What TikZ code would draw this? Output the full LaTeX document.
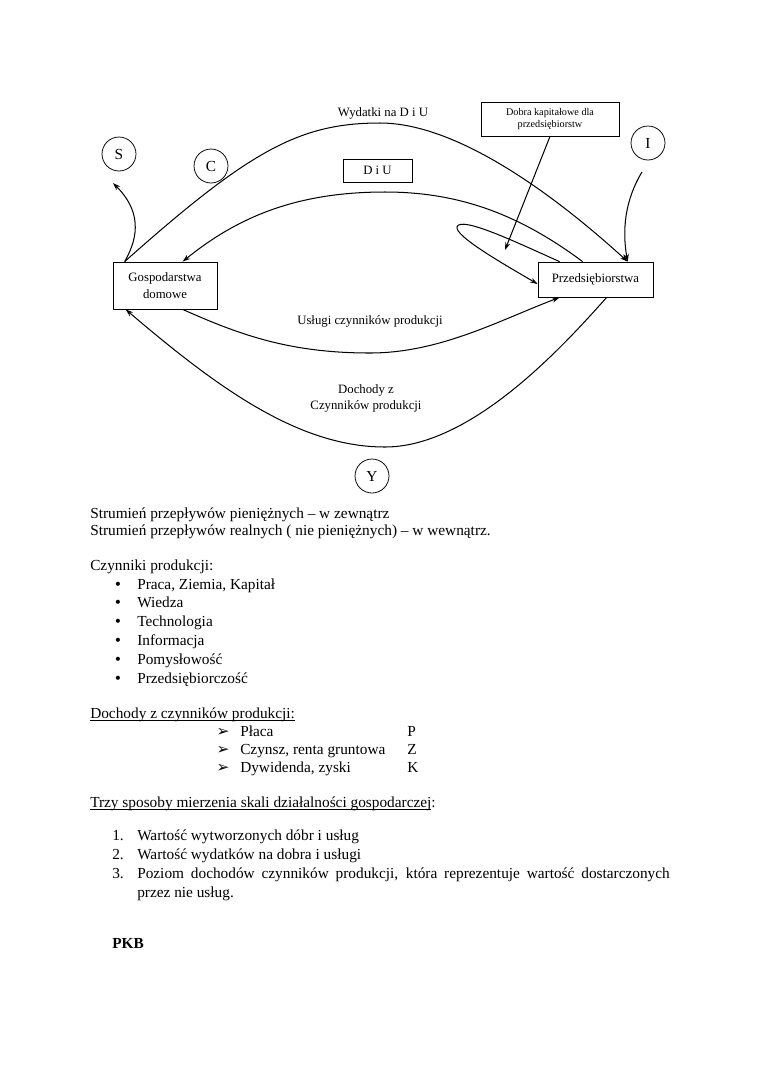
\documentclass[tikz,border=0pt]{standalone}
\usepackage{fontspec}
\setmainfont{Liberation Serif}
\newfontfamily\symfont{DejaVu Sans}
\usetikzlibrary{arrows.meta,calc}
\newlength\undlw
\newcommand{\undl}[1]{\settowidth{\undlw}{#1}\rlap{\rule[-1.8pt]{\undlw}{0.5pt}}#1}

\begin{document}
\begin{tikzpicture}[x=0.783pt, y=-0.783pt, >={Stealth[length=6pt,width=4pt]},
    box/.style={draw, line width=0.6pt, inner sep=1pt, align=center, font=\fontsize{10}{13}\selectfont},
    letter/.style={circle, draw, line width=0.6pt, minimum size=26.6pt, inner sep=0pt, font=\fontsize{12}{14}\selectfont},
    flow/.style={->, line width=0.8pt},
    lbl/.style={align=center, inner sep=0pt, font=\fontsize{10}{12.5}\selectfont},
    txt/.style={anchor=base west, inner sep=0pt, font=\fontsize{12}{14}\selectfont},
    bul/.style={anchor=base, inner sep=0pt, font=\symfont\fontsize{11}{14}\selectfont}]
        \useasboundingbox (0,0) rectangle (760,1075);

        % Sectors
        \node[box, minimum width=81.4pt, minimum height=36.8pt] (gosp) at (165,285.5) {Gospodarstwa\\domowe};
        \node[box, minimum width=90pt, minimum height=27.4pt] (przed) at (595.5,279.5) {Przedsiębiorstwa};
        \node[box, minimum width=54pt, minimum height=18pt] (diu) at (377.5,170.5) {D i U};
        \node[box, minimum width=108pt, minimum height=26.6pt, font=\fontsize{8}{10}\selectfont] (dobra) at (550,119) {Dobra kapitałowe dla\\przedsiębiorstw};

        % Letters
        \node[letter] (s) at (119,154) {S};
        \node[letter] (c) at (211,166) {C};
        \node[letter] (i) at (648,143) {I};
        \node[letter] (y) at (372,476) {Y};

        % Labels
        \node[lbl] (wyd) at (383,113) {Wydatki na D i U};
        \node[lbl] (usl) at (370,321) {Usługi czynników produkcji};
        \node[lbl] (doch) at (366,398) {Dochody z\\Czynników produkcji};

        % Free ends
        \coordinate (sarr) at (113,183);
        \coordinate (iarr) at (642,172);
        \coordinate (darr) at (505,250);

        % Flows above
        \draw[flow] ($(gosp.north west)+(12,0)$) .. controls (250,150) and (300,123) .. (380,123)
            .. controls (460,123) and (560,200) .. ($(przed.north west)+(90,0)$);
        \draw[flow] ($(przed.north west)+(45,0)$) .. controls (520,215) and (460,192) .. (385,192)
            .. controls (300,192) and (240,215) .. ($(gosp.north west)+(70,0)$);
        \draw[flow] ($(przed.north west)+(22,0)$) .. controls (520,244) and (460,215) .. (457,227)
            .. controls (455,236) and (500,262) .. ($(przed.west)+(0,4.5)$);
        \draw[flow] (dobra.south) -- (darr);
        \draw[flow] ($(gosp.north west)+(12,0)$) .. controls (140,235) and (140,210) .. (sarr);
        \draw[flow] (iarr) .. controls (625,200) and (622,230) .. ($(przed.north west)+(90,0)$);

        % Flows below
        \draw[flow] ($(gosp.south west)+(70,0)$) .. controls (240,335) and (290,353) .. (370,353)
            .. controls (440,353) and (500,320) .. ($(przed.south west)+(22,0)$);
        \draw[flow] ($(przed.south west)+(69,0)$) .. controls (560,350) and (470,447) .. (385,447)
            .. controls (300,447) and (220,390) .. ($(gosp.south west)+(13,0)$);

        % Text below the diagram
        \node[txt] (str1) at (90,518) {Strumień przepływów pieniężnych – w zewnątrz};
        \node[txt] (str2) at (90,535) {Strumień przepływów realnych ( nie pieniężnych) – w wewnątrz.};

        \node[txt] (czyn) at (90,570) {Czynniki produkcji:};
        \foreach \t [count=\k from 0] in {{Praca, Ziemia, Kapitał}, Wiedza, Technologia, Informacja, Pomysłowość, Przedsiębiorczość} {
            \node[bul] (b\k) at (118,589+18.8*\k) {•};
            \node[txt] (c\k) at (137,589+18.8*\k) {\t};
        }

        \node[txt] (doch2) at (90,718) {\undl{Dochody z czynników produkcji:}};
        \foreach \t/\l [count=\k from 0] in {Płaca/P, {Czynsz, renta gruntowa}/Z, {Dywidenda, zyski}/K} {
            \node[bul, font=\symfont\fontsize{12}{14}\selectfont] (a\k) at (223,736+18*\k) {➢};
            \node[txt] (d\k) at (240,736+18*\k) {\t};
            \node[txt] (e\k) at (407,736+18*\k) {\l};
        }

        \node[txt] (trzy) at (90,807) {\undl{Trzy sposoby mierzenia skali działalności gospodarczej}:};
        \node[txt] (n1) at (112,840) {1.};
        \node[txt] (m1) at (137,840) {Wartość wytworzonych dóbr i usług};
        \node[txt] (n2) at (112,859) {2.};
        \node[txt] (m2) at (137,859) {Wartość wydatków na dobra i usługi};
        \node[txt] (n3) at (112,878) {3.};
        \node[txt] (m3) at (137,878) {\makebox[417pt][s]{Poziom dochodów czynników produkcji, która reprezentuje wartość dostarczonych}};
        \node[txt] (m4) at (137,897) {przez nie usług.};

        \node[txt, font=\bfseries\fontsize{12}{14}\selectfont] (pkb) at (112,948) {PKB};
\end{tikzpicture}
\end{document}
